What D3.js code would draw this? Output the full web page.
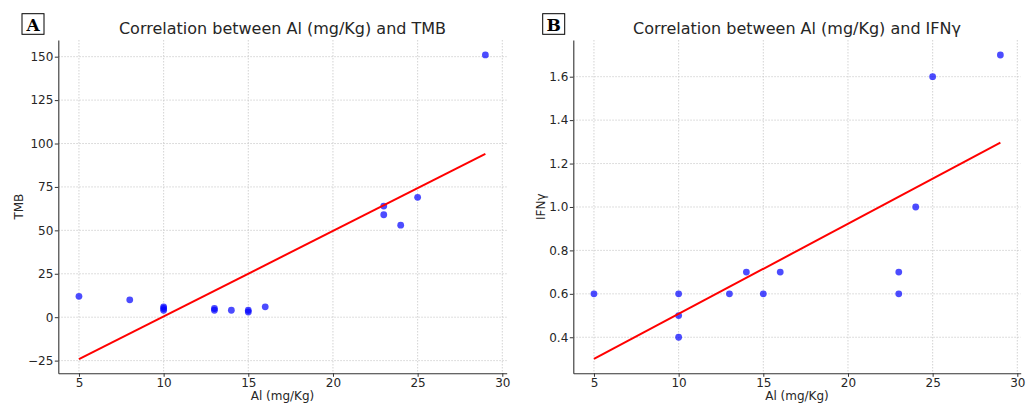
<!DOCTYPE html>
<html>
<head>
<meta charset="utf-8">
<script src="https://cdn.jsdelivr.net/npm/d3@7"></script>
<style>
  body { margin: 0; background: #fff; }
  svg { display: block; font-family: "DejaVu Sans", sans-serif; }
</style>
</head>
<body>
<svg id="chart" width="1026" height="403"></svg>
<script>
// panel A: Al vs TMB
var alA = [5, 8, 10, 10, 10, 13, 13, 14, 15, 15, 16, 23, 23, 24, 25, 29];
var tmb = [12, 10, 6, 5, 4, 5, 4, 4, 4, 3, 6, 64, 59, 53, 69, 151];
var fitAx = [5, 29];
var fitAy = [-24.2, 94.0];
var ticksAy = [-25, 0, 25, 50, 75, 100, 125, 150];

// panel B: Al vs IFNγ
var alB = [5, 10, 10, 10, 13, 14, 15, 16, 23, 23, 24, 25, 29];
var ifng = [0.6, 0.6, 0.5, 0.4, 0.6, 0.7, 0.6, 0.7, 0.7, 0.6, 1.0, 1.6, 1.7];
var fitBx = [5, 29];
var fitBy = [0.30, 1.296];
var ticksBy = [0.4, 0.6, 0.8, 1.0, 1.2, 1.4, 1.6];

var ticksX = [5, 10, 15, 20, 25, 30];

var svg = d3.select('#chart');
var textColor = '#262626';

function draw_panel(p) {
    var g = svg.append('g');
    var x = d3.scaleLinear().domain(p.xDomain).range([p.left, p.right]);
    var y = d3.scaleLinear().domain(p.yDomain).range([p.bottom, p.top]);

    // grid
    g.append('g').selectAll('line.gx')
        .data(ticksX).enter().append('line')
        .attr('x1', function (d) { return x(d); })
        .attr('x2', function (d) { return x(d); })
        .attr('y1', p.top).attr('y2', p.bottom)
        .attr('stroke', '#c8c8c8').attr('stroke-width', 0.8)
        .attr('stroke-dasharray', '1.5,1.5');
    g.append('g').selectAll('line.gy')
        .data(p.yTicks).enter().append('line')
        .attr('y1', function (d) { return y(d); })
        .attr('y2', function (d) { return y(d); })
        .attr('x1', p.left).attr('x2', p.right)
        .attr('stroke', '#c8c8c8').attr('stroke-width', 0.8)
        .attr('stroke-dasharray', '1.5,1.5');

    // axes
    var xAxis = d3.axisBottom(x).tickValues(ticksX).tickSize(3.5).tickPadding(1.5)
        .tickSizeOuter(0).tickFormat(d3.format('d'));
    var yAxis = d3.axisLeft(y).tickValues(p.yTicks).tickSize(3.5).tickPadding(1.5)
        .tickSizeOuter(0).tickFormat(p.yFormat);
    var gx = g.append('g').attr('transform', 'translate(0,' + p.bottom + ')').call(xAxis);
    var gy = g.append('g').attr('transform', 'translate(' + p.left + ',0)').call(yAxis);
    [gx, gy].forEach(function (a) {
        a.select('.domain').attr('stroke', '#333').attr('stroke-width', 1.1);
        a.selectAll('.tick line').attr('stroke', '#333');
        a.selectAll('.tick text').attr('fill', textColor)
            .style('font-size', '12px').style('font-family', '"DejaVu Sans", sans-serif');
    });

    // points
    g.append('g').selectAll('circle')
        .data(p.xs).enter().append('circle')
        .attr('cx', function (d) { return x(d); })
        .attr('cy', function (d, i) { return y(p.ys[i]); })
        .attr('r', 3.4)
        .attr('fill', 'blue')
        .attr('fill-opacity', 0.7);

    // regression line
    var line = d3.line()
        .x(function (d) { return x(d[0]); })
        .y(function (d) { return y(d[1]); });
    g.append('path')
        .attr('d', line(d3.zip(p.fitX, p.fitY)))
        .attr('fill', 'none')
        .attr('stroke', 'red')
        .attr('stroke-width', 2);

    // title
    g.append('text')
        .attr('x', (p.left + p.right) / 2).attr('y', 34)
        .attr('text-anchor', 'middle')
        .attr('fill', textColor)
        .style('font-size', '16px')
        .text(p.title);

    // axis labels
    g.append('text')
        .attr('x', (p.left + p.right) / 2).attr('y', 399.5)
        .attr('text-anchor', 'middle')
        .attr('fill', textColor)
        .style('font-size', '12px')
        .text('Al (mg/Kg)');
    g.append('text')
        .attr('transform', 'translate(' + p.yLabelX + ',' + (p.top + p.bottom) / 2 + ') rotate(-90)')
        .attr('text-anchor', 'middle')
        .attr('fill', textColor)
        .style('font-size', '12px')
        .text(p.yLabel);

    // panel letter
    g.append('rect')
        .attr('x', p.boxX).attr('y', 13.7)
        .attr('width', 22).attr('height', 20.6)
        .attr('fill', '#fff').attr('stroke', '#000').attr('stroke-width', 1);
    g.append('text')
        .attr('x', p.boxX + 11).attr('y', 30.5)
        .attr('text-anchor', 'middle')
        .style('font-family', '"DejaVu Serif", "Liberation Serif", serif')
        .style('font-weight', 'bold')
        .style('font-size', '17px')
        .text(p.letter);
}

draw_panel({
    xs: alA, ys: tmb, fitX: fitAx, fitY: fitAy, yTicks: ticksAy,
    xDomain: [3.78, 30.26], yDomain: [-32.3, 159.6],
    left: 58.3, right: 506.7, top: 40, bottom: 373.3,
    yFormat: d3.format('d'),
    title: 'Correlation between Al (mg/Kg) and TMB',
    yLabel: 'TMB', yLabelX: 23,
    letter: 'A', boxX: 22
});

draw_panel({
    xs: alB, ys: ifng, fitX: fitBx, fitY: fitBy, yTicks: ticksBy,
    xDomain: [3.78, 30.2], yDomain: [0.234, 1.769],
    left: 573.3, right: 1020.7, top: 40, bottom: 373.3,
    yFormat: d3.format('.1f'),
    title: 'Correlation between Al (mg/Kg) and IFNγ',
    yLabel: 'IFNγ', yLabelX: 545,
    letter: 'B', boxX: 542.7
});
</script>
</body>
</html>
